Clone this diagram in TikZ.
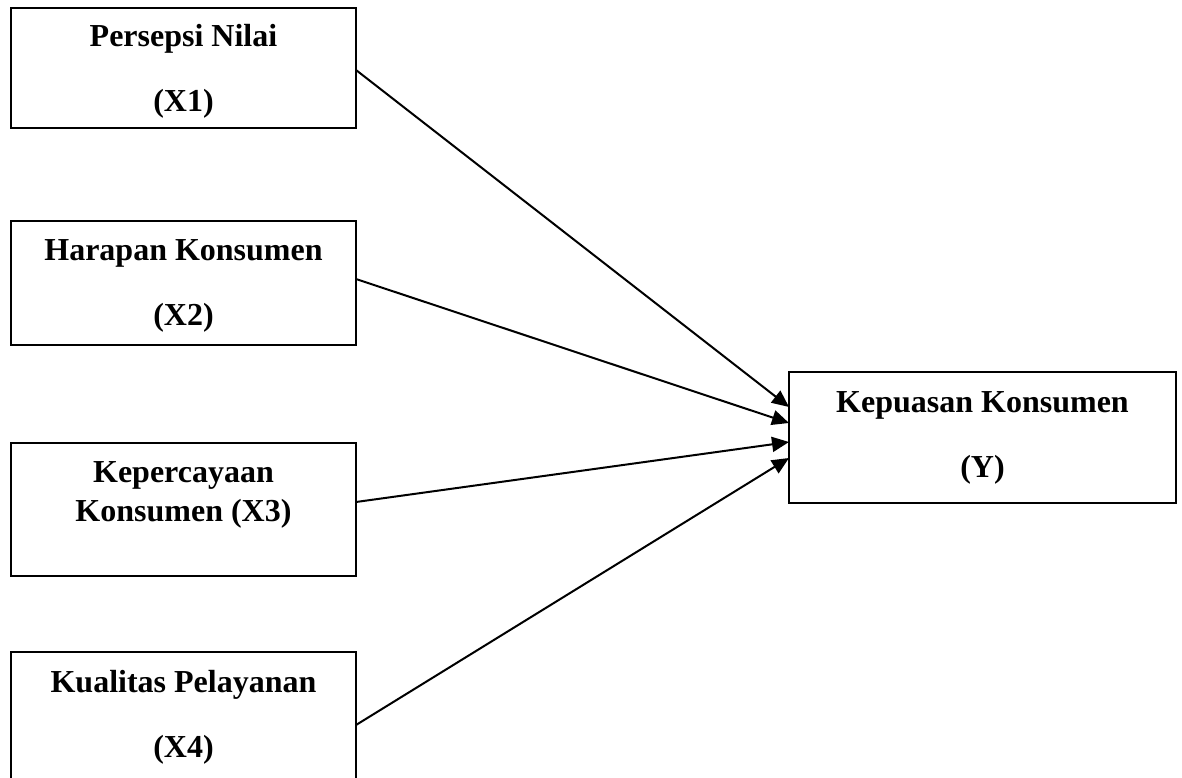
\documentclass[tikz,border=0pt]{standalone}
\usepackage{fontspec}
\setmainfont{Liberation Serif}
\usetikzlibrary{arrows.meta, positioning}

\begin{document}
\begin{tikzpicture}[
  x=1pt, y=-1pt,
  font=\fontsize{32}{65}\selectfont\bfseries,
  var/.style={draw, line width=2pt, align=center, minimum width=345pt, inner sep=0pt, outer sep=0pt},
  arrow/.style={-{Triangle[length=17pt, width=15pt]}, line width=2pt}
]
\useasboundingbox (0,0) rectangle (1182,778);

\node[var, minimum height=120pt, text depth=0pt] (x1) at (183.5,68) {Persepsi Nilai\\(X1)};
\node[var, minimum height=124pt, below=93pt of x1, text depth=0pt] (x2) {Harapan Konsumen\\(X2)};
\node[var, minimum height=133pt, below=98pt of x2, font=\fontsize{32}{39}\selectfont\bfseries, text depth=36pt] (x3) {Kepercayaan\\Konsumen (X3)};
\node[var, minimum height=130pt, below=76pt of x3] (x4) {Kualitas Pelayanan\\(X4)};

\node[var, minimum width=387pt, minimum height=131pt] (y) at (982.5,437.5) {Kepuasan Konsumen\\(Y)};

\draw[arrow] ([yshift=-2pt]x1.east) -- ([yshift=30.5pt]y.west);
\draw[arrow] ([yshift=4pt]x2.east) -- ([yshift=14.5pt]y.west);
\draw[arrow] ([yshift=7.5pt]x3.east) -- ([yshift=-4.5pt]y.west);
\draw[arrow] ([yshift=-8pt]x4.east) -- ([yshift=-20.5pt]y.west);

\end{tikzpicture}
\end{document}
